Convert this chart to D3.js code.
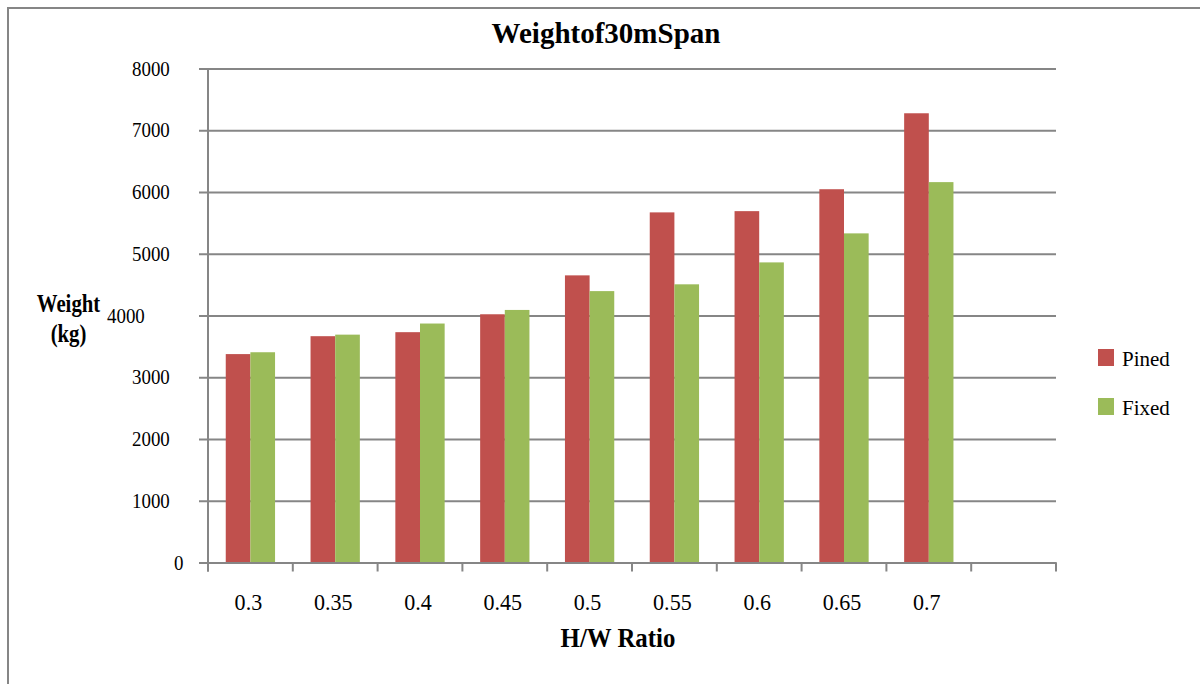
<!DOCTYPE html>
<html>
<head>
<meta charset="utf-8">
<script src="https://cdn.jsdelivr.net/npm/d3@7"></script>
<style>
  body { margin: 0; background: #fff; }
  svg { display: block; font-family: "Liberation Serif", "Times New Roman", serif; }
</style>
</head>
<body>
<div id="chart"></div>
<script>
// H/W ratio categories (last slot is empty in the original)
var ratios = ['0.3', '0.35', '0.4', '0.45', '0.5', '0.55', '0.6', '0.65', '0.7', ''];
var seriesNames = ['Pined', 'Fixed'];
var pined = [3375, 3665, 3730, 4020, 4650, 5670, 5690, 6045, 7275];
var fixed = [3405, 3690, 3870, 4090, 4395, 4505, 4860, 5330, 6160];
var yTicks = [0, 1000, 2000, 3000, 4000, 5000, 6000, 7000, 8000];
var colors = ['#C0504D', '#9BBB59'];

var fullWidth = 1200, fullHeight = 684;
var plot = {left: 208, right: 1056, top: 68.5, bottom: 562.5};

var svg = d3.select('#chart').append('svg')
  .attr('width', fullWidth)
  .attr('height', fullHeight);

// outer frame, runs off the right and bottom edges
svg.append('rect')
  .attr('x', 8).attr('y', 8)
  .attr('width', 1300).attr('height', 800)
  .attr('fill', 'none')
  .attr('stroke', '#868686')
  .attr('stroke-width', 2);

var xScale = d3.scaleBand()
  .domain(ratios)
  .range([plot.left, plot.right])
  .padding(0);

var seriesScale = d3.scaleBand()
  .domain(seriesNames)
  .range([0, xScale.bandwidth()])
  .paddingInner(0)
  .paddingOuter(0.72);

var yScale = d3.scaleLinear()
  .domain([0, 8000])
  .range([plot.bottom, plot.top]);

// gridlines + left ticks
var yAxis = d3.axisLeft(yScale)
  .tickValues(yTicks)
  .tickSize(-(plot.right - plot.left + 9))
  .tickFormat('');

svg.append('g')
  .attr('class', 'grid')
  .attr('transform', 'translate(' + (plot.left - 9) + ',0)')
  .call(yAxis)
  .call(function(g) {
    g.select('.domain').remove();
    g.selectAll('.tick line').attr('stroke', '#868686').attr('stroke-width', 2);
  });

// y tick labels: squeezed glyphs, placed from their original right-aligned slot
var yLabelShift = {4000: -25};
svg.append('g').selectAll('text')
  .data(yTicks)
  .enter().append('text')
    .attr('transform', function(d) {
      var s = String(d);
      var x = 188 - 14 * s.length + (yLabelShift[d] || 0);
      return 'translate(' + x + ',' + (yScale(d) + 7) + ') scale(0.86,1)';
    })
    .attr('font-size', 22)
    .attr('fill', '#000')
    .text(function(d) { return d; });

// bars
var rows = ratios.slice(0, pined.length).map(function(r, i) {
  return {ratio: r, values: [pined[i], fixed[i]]};
});

var groups = svg.append('g').selectAll('g')
  .data(rows)
  .enter().append('g')
    .attr('transform', function(d) { return 'translate(' + xScale(d.ratio) + ',0)'; });

groups.selectAll('rect')
  .data(function(d) { return d.values.map(function(v, j) { return {name: seriesNames[j], value: v, idx: j}; }); })
  .enter().append('rect')
    .attr('x', function(d) { return seriesScale(d.name); })
    .attr('width', seriesScale.bandwidth())
    .attr('y', function(d) { return yScale(d.value); })
    .attr('height', function(d) { return plot.bottom - yScale(d.value); })
    .attr('fill', function(d) { return colors[d.idx]; });

// axes lines
var xAxis = d3.axisBottom(xScale)
  .tickSize(0)
  .tickFormat('');

svg.append('g')
  .attr('transform', 'translate(0,' + plot.bottom + ')')
  .call(xAxis)
  .call(function(g) {
    g.select('.domain').attr('stroke', '#868686').attr('stroke-width', 2);
  });

// category boundary ticks
var bounds = ratios.map(function(r) { return xScale(r); }).concat([plot.right]);
svg.append('g').selectAll('line')
  .data(bounds)
  .enter().append('line')
    .attr('x1', function(d) { return d; })
    .attr('x2', function(d) { return d; })
    .attr('y1', plot.bottom)
    .attr('y2', plot.bottom + 9)
    .attr('stroke', '#868686')
    .attr('stroke-width', 2);

svg.append('line')
  .attr('x1', plot.left).attr('x2', plot.left)
  .attr('y1', plot.top).attr('y2', plot.bottom + 9)
  .attr('stroke', '#868686')
  .attr('stroke-width', 2);

// x tick labels
svg.append('g').selectAll('text')
  .data(ratios.filter(function(r) { return r !== ''; }))
  .enter().append('text')
    .attr('transform', function(d) {
      return 'translate(' + (xScale(d) + xScale.bandwidth() / 2 - 2) + ',610) scale(0.92,1)';
    })
    .attr('text-anchor', 'middle')
    .attr('font-size', 24)
    .text(function(d) { return d; });

// title
svg.append('text')
  .attr('x', 606)
  .attr('y', 43)
  .attr('text-anchor', 'middle')
  .attr('font-size', 29)
  .attr('font-weight', 'bold')
  .text('Weightof30mSpan');

// x axis title
svg.append('text')
  .attr('transform', 'translate(618,647) scale(0.92,1)')
  .attr('text-anchor', 'middle')
  .attr('font-size', 27)
  .attr('font-weight', 'bold')
  .text('H/W Ratio');

// y axis title
var yTitle = svg.append('text')
  .attr('transform', 'translate(68.5,0) scale(0.83,1)')
  .attr('text-anchor', 'middle')
  .attr('font-size', 25)
  .attr('font-weight', 'bold');
yTitle.append('tspan').attr('x', 0).attr('y', 312).text('Weight');
yTitle.append('tspan').attr('x', 0).attr('y', 342).text('(kg)');

// legend
var legend = svg.append('g').selectAll('g')
  .data(seriesNames)
  .enter().append('g')
    .attr('transform', function(d, i) { return 'translate(1098,' + (349 + i * 49) + ')'; });

legend.append('rect')
  .attr('width', 16)
  .attr('height', 17)
  .attr('fill', function(d, i) { return colors[i]; });

legend.append('text')
  .attr('x', 24)
  .attr('y', 17)
  .attr('font-size', 21)
  .text(function(d) { return d; });
</script>
</body>
</html>
